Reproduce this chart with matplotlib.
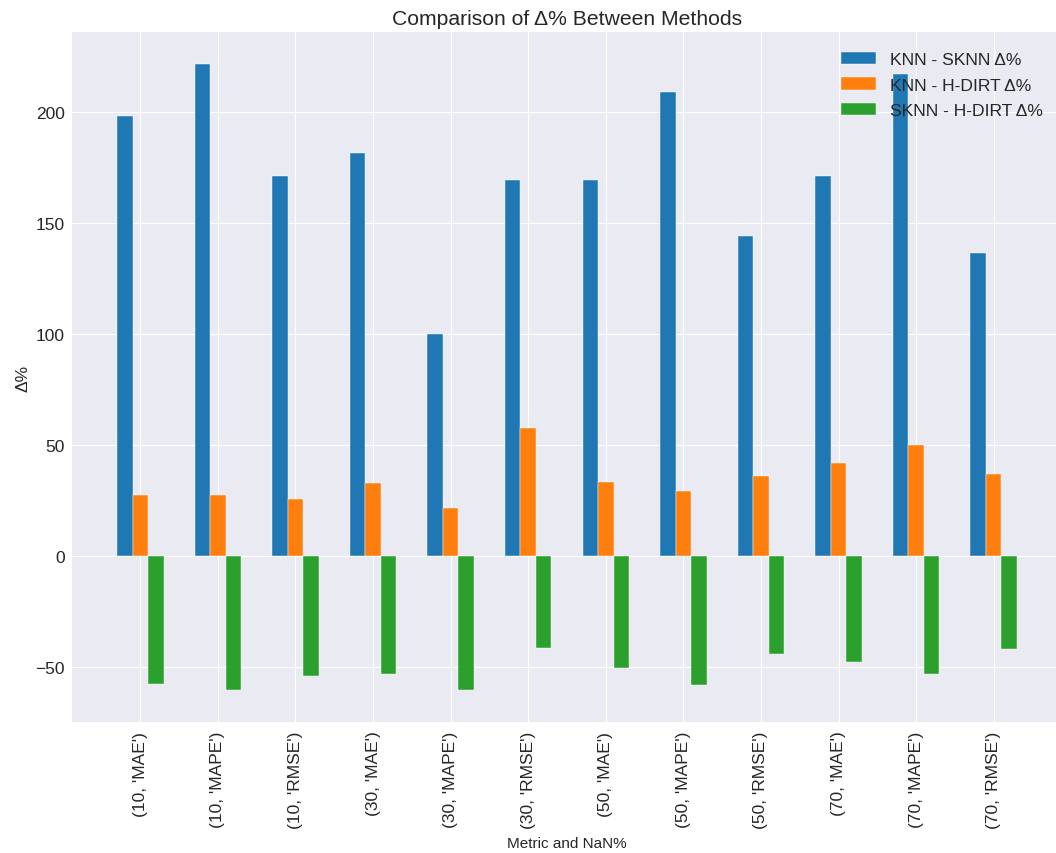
import numpy as np
import matplotlib
matplotlib.use("Agg")
import matplotlib.pyplot as plt

plt.style.use('seaborn-v0_8-darkgrid')
plt.rcParams['font.family'] = ['Liberation Sans', 'DejaVu Sans']

# (NaN%, metric) pairs on the x axis
nan_pct = [10, 10, 10, 30, 30, 30, 50, 50, 50, 70, 70, 70]
metrics = ['MAE', 'MAPE', 'RMSE'] * 4

knn_sknn = [198.2, 221.8, 171.2, 181.5, 99.9, 169.4,
            169.4, 209.2, 144.0, 171.0, 217.1, 136.5]
knn_hdirt = [27.6, 27.6, 25.9, 32.9, 21.8, 57.5,
             33.5, 29.5, 36.2, 42.1, 50.2, 36.9]
sknn_hdirt = [-57.5, -60.5, -54.1, -53.0, -60.5, -41.3,
              -50.6, -58.1, -44.3, -47.7, -53.0, -42.0]

labels = [str((n, m)) for n, m in zip(nan_pct, metrics)]
x = np.arange(len(labels))
w = 0.2

fig = plt.figure(figsize=(10.56, 8.54), dpi=100)
ax = fig.add_axes([72 / 1056, 1 - 722.7 / 854, 990 / 1056, 689.4 / 854])

bar_kw = dict(edgecolor='white', linewidth=0.3)
ax.bar(x - w, knn_sknn, w, label='KNN - SKNN Δ%', color='#1f77b4', **bar_kw)
ax.bar(x, knn_hdirt, w, label='KNN - H-DIRT Δ%', color='#ff7f0e', **bar_kw)
ax.bar(x + w, sknn_hdirt, w, label='SKNN - H-DIRT Δ%', color='#2ca02c', **bar_kw)

ax.set_xticks(x)
ax.set_xticklabels(labels, rotation=90)
ax.tick_params(axis='both', labelsize=12.5, colors='#262626')
ax.tick_params(axis='x', pad=6.5)
ax.tick_params(axis='y', pad=5)
ax.set_xlabel('Metric and NaN%', fontsize=11, color='#262626', labelpad=6)
ax.set_ylabel('Δ%', fontsize=12.5, color='#262626')
ax.set_title('Comparison of Δ% Between Methods', fontsize=15.2, color='#262626')
ax.legend(fontsize=12.6, loc='upper right', labelspacing=0.6, borderaxespad=0.7)

fig.savefig('out.png', dpi=100)
